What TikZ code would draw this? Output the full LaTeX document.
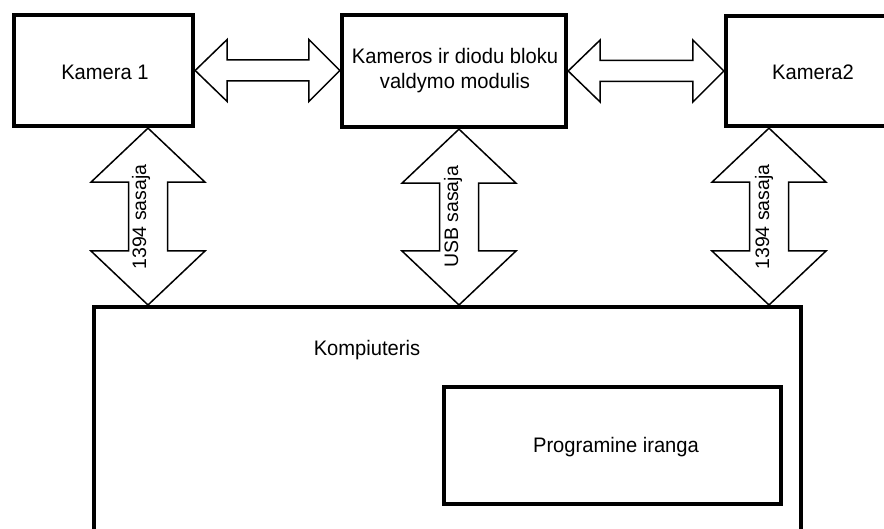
\documentclass[tikz,border=0pt]{standalone}
\usepackage{fontspec}
\setmainfont{Liberation Sans}
\usetikzlibrary{calc}

% block double arrows: horizontal (#1 left end, #2 right end)
\newcommand\hbiarrow[2]{%
  \draw[blockarrow] let \p1=(#1), \p2=(#2) in
    (\x1,\y1) -- (\x1+32pt,\y1+31pt) -- (\x1+32pt,\y1+10.5pt)
    -- (\x2-31pt,\y1+10.5pt) -- (\x2-31pt,\y1+31pt) -- (\x2,\y1)
    -- (\x2-31pt,\y1-31pt) -- (\x2-31pt,\y1-10.5pt)
    -- (\x1+32pt,\y1-10.5pt) -- (\x1+32pt,\y1-31pt) -- cycle;}
% vertical (#1 top end, #2 bottom end)
\newcommand\vbiarrow[2]{%
  \draw[blockarrow] let \p1=(#1), \p2=(#2) in
    (\x1,\y1) -- (\x1+57pt,\y1-54pt) -- (\x1+19.5pt,\y1-54pt)
    -- (\x1+19.5pt,\y2+54pt) -- (\x1+57pt,\y2+54pt) -- (\x1,\y2)
    -- (\x1-57pt,\y2+54pt) -- (\x1-19.5pt,\y2+54pt)
    -- (\x1-19.5pt,\y1-54pt) -- (\x1-57pt,\y1-54pt) -- cycle;}

\begin{document}
\begin{tikzpicture}[x=1pt,y=-1pt,
  box/.style={draw=black, line width=3.8pt, rectangle, inner sep=0pt},
  blockarrow/.style={draw=black, fill=white, line width=1.5pt, line join=miter},
  lbl/.style={font=\fontsize{21}{25}\selectfont, inner sep=0pt, align=center, xscale=0.96},
  vlabel/.style={font=\fontsize{19.5}{23}\selectfont, inner sep=0pt, rotate=90, anchor=base}]
\useasboundingbox (0,0) rectangle (884,529);
\clip (0,0) rectangle (884,529);
\fill[white] (0,0) rectangle (884,529);

% boxes
\node[box, minimum width=179.5, minimum height=111.5] (k1) at (103.5,70.5) {};
\node[box, minimum width=224.5, minimum height=112.5] (mod) at (454,71) {};
\node[box, minimum width=174.5, minimum height=110.5] (k2) at (813,71) {};
\node[box, minimum width=707.5, minimum height=293] (pc) at (447.5,453.4) {};
\node[box, minimum width=337.5, minimum height=117.5] (prog) at (612.5,445.5) {};

% texts
\node[lbl] (k1t) at (105,72) {Kamera 1};
\node[lbl] (modt) at (455,71) {Kameros ir diodu bloku\\valdymo modulis};
\node[lbl] (k2t) at (813,72) {Kamera2};
\node[lbl] (pct) at (367,350) {Kompiuteris};
\node[lbl] (progt) at (616,447) {Programine iranga};

% x positions of the vertical links
\coordinate (v1) at (148,0);
\coordinate (v2) at (459,0);
\coordinate (v3) at (769,0);

% links
\hbiarrow{k1.east}{mod.west}
\hbiarrow{mod.east}{k2.west}
\vbiarrow{k1.south -| v1}{pc.north -| v1}
\vbiarrow{mod.south -| v2}{pc.north -| v2}
\vbiarrow{k2.south -| v3}{pc.north -| v3}

% link labels
\node[vlabel] (l1) at (146,217) {1394 sasaja};
\node[vlabel] (l2) at (458,217) {USB sasaja};
\node[vlabel] (l3) at (769,217) {1394 sasaja};
\end{tikzpicture}
\end{document}
